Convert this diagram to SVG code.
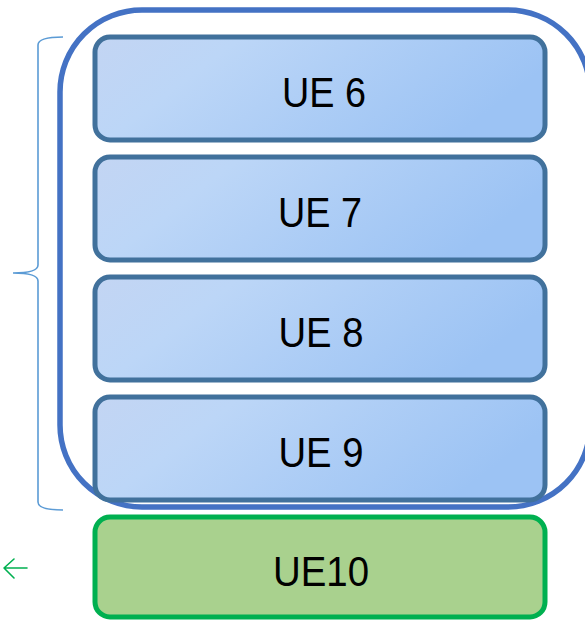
<svg xmlns="http://www.w3.org/2000/svg" width="585" height="620" viewBox="0 0 585 620">
<defs>
<linearGradient id="blueGrad" x1="0" y1="0" x2="1" y2="0.3">
<stop offset="0" stop-color="#C3D5F3"/>
<stop offset="0.3" stop-color="#BCD6F7"/>
<stop offset="1" stop-color="#9CC3F4"/>
</linearGradient>
</defs>
<style>
.ue{fill:url(#blueGrad);stroke:#41719C;stroke-width:5}
.ue10{fill:#A9D18E;stroke:#00B050;stroke-width:5}
.lbl{font-family:"Liberation Sans",Arial,sans-serif;font-size:42px;fill:#000;text-anchor:middle}
.brace{fill:none;stroke:#5B9BD5;stroke-width:1.6}
.arrow{fill:none;stroke:#00B050;stroke-width:1.6;stroke-linecap:round;stroke-linejoin:round}
</style>
<g id="group-box">
<rect x="60" y="10" width="530" height="497" rx="82" ry="82" fill="none" stroke="#4472C4" stroke-width="5.5"/>
</g>
<g id="ue6">
<rect class="ue" x="95" y="37" width="450" height="103" rx="15"/>
<text class="lbl" x="324" y="107" textLength="84" lengthAdjust="spacingAndGlyphs">UE 6</text>
</g>
<g id="ue7">
<rect class="ue" x="95" y="157" width="450" height="103" rx="15"/>
<text class="lbl" x="320" y="227" textLength="84" lengthAdjust="spacingAndGlyphs">UE 7</text>
</g>
<g id="ue8">
<rect class="ue" x="95" y="277" width="450" height="103" rx="15"/>
<text class="lbl" x="321" y="347" textLength="85" lengthAdjust="spacingAndGlyphs">UE 8</text>
</g>
<g id="ue9">
<rect class="ue" x="95" y="397" width="450" height="103" rx="15"/>
<text class="lbl" x="321" y="467" textLength="85" lengthAdjust="spacingAndGlyphs">UE 9</text>
</g>
<g id="ue10">
<rect class="ue10" x="95" y="517" width="450" height="100" rx="15"/>
<text class="lbl" x="321" y="586" textLength="96" lengthAdjust="spacingAndGlyphs">UE10</text>
</g>
<g id="connectors">
<path class="brace" d="M63,37 Q38,37 38,45 L38,265 Q38,273 13,273 Q38,273 38,281 L38,502 Q38,510 63,510"/>
<path class="arrow" d="M27,568 L4,568 M14,559 L4,568 L14,578"/>
</g>
</svg>
